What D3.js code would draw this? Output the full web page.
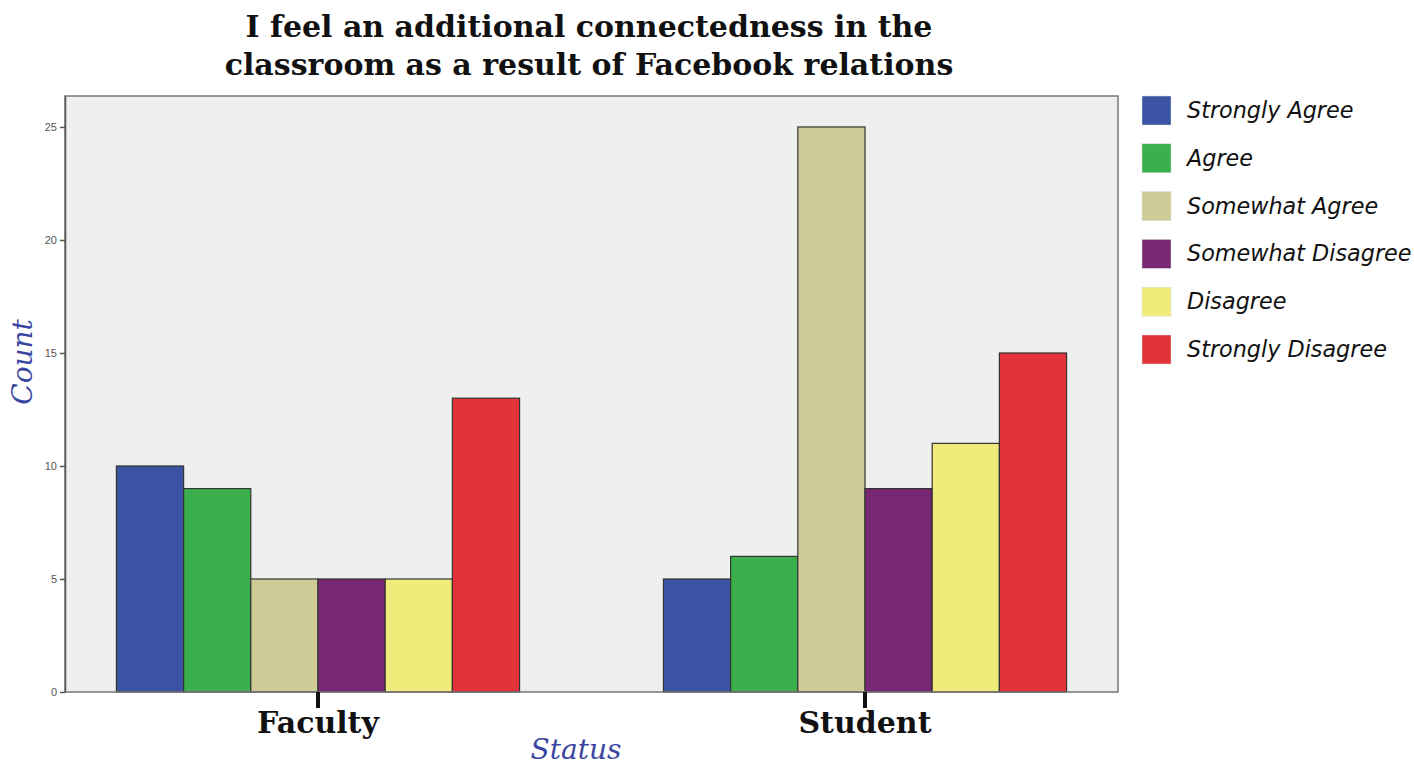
<!DOCTYPE html>
<html lang="en">
<head>
    <meta charset="UTF-8">
    <title>Facebook connectedness</title>
    <script src="https://d3js.org/d3.v7.min.js"></script>
    <style>
        body { margin: 0; background: #fff; }
        .title { font-family: "DejaVu Serif", serif; font-weight: bold; font-size: 30px; fill: #111; }
        .axis-title { font-family: "DejaVu Serif", serif; font-style: italic; font-size: 28px; fill: #3b46a3; }
        .cat-label { font-family: "DejaVu Serif", serif; font-weight: bold; font-size: 30px; fill: #111; }
        .legend text { font-family: "DejaVu Sans", sans-serif; font-style: italic; font-size: 22.3px; fill: #111; }
        .y-axis text { font-family: "Liberation Sans", Arial, sans-serif; font-size: 11px; fill: #555; }
    </style>
</head>
<body>
<svg width="1414" height="766"></svg>

<script>
    const statuses = ["Faculty", "Student"];
    const responses = ["Strongly Agree", "Agree", "Somewhat Agree", "Somewhat Disagree", "Disagree", "Strongly Disagree"];
    const facultyCounts = [10, 9, 5, 5, 5, 13];
    const studentCounts = [5, 6, 25, 9, 11, 15];
    const colors = ["#3a54a3", "#3aaf4b", "#cecb96", "#782873", "#f0ec7b", "#e23338"];
    const yTicks = [0, 5, 10, 15, 20, 25];

    const svg = d3.select("svg");
    const plot = { left: 65, top: 96, right: 1118, bottom: 692 };

    const rows = statuses.map((s, i) => ({
        status: s,
        values: responses.map((r, j) => ({ response: r, count: [facultyCounts, studentCounts][i][j] }))
    }));

    const x = d3.scaleBand()
        .domain(statuses)
        .range([plot.left, plot.right])
        .paddingInner(0.263)
        .paddingOuter(0.094);

    const xInner = d3.scaleBand()
        .domain(responses)
        .range([0, x.bandwidth()]);

    const y = d3.scaleLinear()
        .domain([0, 26.37])
        .range([plot.bottom, plot.top]);

    const color = d3.scaleOrdinal().domain(responses).range(colors);

    // plot background
    svg.append("rect")
        .attr("x", plot.left)
        .attr("y", plot.top)
        .attr("width", plot.right - plot.left)
        .attr("height", plot.bottom - plot.top)
        .attr("fill", "#eef0ef");

    // bars
    svg.append("g")
        .selectAll("g")
        .data(rows)
        .enter()
        .append("g")
        .attr("transform", d => `translate(${x(d.status)},0)`)
        .selectAll("rect")
        .data(d => d.values)
        .enter()
        .append("rect")
        .attr("x", d => xInner(d.response))
        .attr("y", d => y(d.count))
        .attr("width", xInner.bandwidth())
        .attr("height", d => y(0) - y(d.count))
        .attr("fill", d => color(d.response))
        .attr("stroke", "#333")
        .attr("stroke-width", 1.2);

    // frame
    svg.append("rect")
        .attr("x", plot.left)
        .attr("y", plot.top)
        .attr("width", plot.right - plot.left)
        .attr("height", plot.bottom - plot.top)
        .attr("fill", "none")
        .attr("stroke", "#777")
        .attr("stroke-width", 1.5);

    // y axis
    const yAxis = svg.append("g")
        .attr("class", "y-axis")
        .attr("transform", `translate(${plot.left},0)`)
        .call(d3.axisLeft(y).tickValues(yTicks).tickSize(5).tickSizeOuter(0).tickPadding(3));
    yAxis.select(".domain").attr("stroke", "#555").attr("stroke-width", 1.5);
    yAxis.selectAll(".tick line").attr("stroke", "#555").attr("stroke-width", 1.5);

    // x axis: thick ticks + labels
    const xAxis = svg.append("g").attr("transform", `translate(0,${plot.bottom})`);
    xAxis.selectAll("line")
        .data(statuses)
        .enter()
        .append("line")
        .attr("x1", d => x(d) + x.bandwidth() / 2)
        .attr("x2", d => x(d) + x.bandwidth() / 2)
        .attr("y1", 0)
        .attr("y2", 16)
        .attr("stroke", "#111")
        .attr("stroke-width", 4);
    xAxis.selectAll("text")
        .data(statuses)
        .enter()
        .append("text")
        .attr("class", "cat-label")
        .attr("x", d => x(d) + x.bandwidth() / 2)
        .attr("y", 41)
        .attr("text-anchor", "middle")
        .text(d => d);

    // axis titles
    svg.append("text")
        .attr("class", "axis-title")
        .attr("x", 576)
        .attr("y", 759)
        .attr("text-anchor", "middle")
        .text("Status");

    svg.append("text")
        .attr("class", "axis-title")
        .attr("transform", "translate(32,362) rotate(-90)")
        .attr("text-anchor", "middle")
        .text("Count");

    // title
    const title = svg.append("text")
        .attr("class", "title")
        .attr("text-anchor", "middle");
    title.append("tspan").attr("x", 589).attr("y", 37).text("I feel an additional connectedness in the");
    title.append("tspan").attr("x", 589).attr("y", 75).text("classroom as a result of Facebook relations");

    // legend
    const legend = svg.append("g")
        .attr("class", "legend")
        .attr("transform", "translate(1142,96)");
    const item = legend.selectAll("g")
        .data(responses)
        .enter()
        .append("g")
        .attr("transform", (d, i) => `translate(0,${i * 47.8})`);
    item.append("rect")
        .attr("width", 29)
        .attr("height", 29)
        .attr("fill", d => color(d))
        .attr("stroke", "#ddd")
        .attr("stroke-width", 0.5);
    item.append("text")
        .attr("x", 45)
        .attr("y", 22)
        .text(d => d);
</script>
</body>
</html>
